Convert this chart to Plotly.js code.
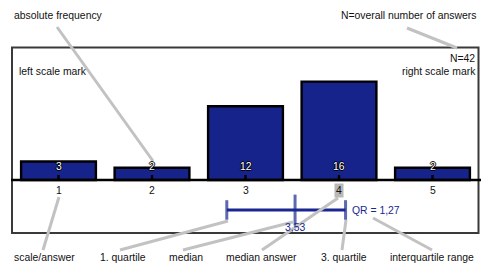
<!DOCTYPE html>
<html><head><meta charset="utf-8">
<script src="https://cdn.plot.ly/plotly-3.0.1.min.js"></script>
<style>html,body{margin:0;padding:0;background:#fff}#chart{width:481px;height:271px}</style>
</head><body><div id="chart"></div>
<script>
// ---- data ----
const categories = [1, 2, 3, 4, 5];
const frequencies = [3, 2, 12, 16, 2];
const tickLabels = ['1', '2', '3', '4', '5'];
const medianAnswer = 4;
const nTotal = 42;
const quartile1 = 2.80;
const medianValue = 3.53;
const quartile3 = 4.07;
const interquartileRange = 1.27;

// ---- layout geometry ----
const W = 481, H = 271;
const x0 = 1 - 58.5 / 93.5, x1 = x0 + W / 93.5;
const pxU = 6.15, baseY = 180;
const yLo = -(H - baseY) / pxU, yHi = baseY / pxU;
const px = v => v / W, py = v => 1 - v / H;
const fmt = v => v.toFixed(2).replace('.', ',');
const navy = '#1a2790', barFill = '#16238a', grey = '#c2c2c2';
const FS = 10.4;
const font = {family: 'Liberation Sans, Arial, sans-serif', size: FS, color: '#111'};
const iqrY = -(210 - baseY) / pxU;

const traces = [
  {type: 'bar', x: categories, y: frequencies, width: 0.8,
   marker: {color: barFill, line: {color: '#000', width: 2.4}}, hoverinfo: 'none'},
  {type: 'scatter', mode: 'lines', x: [quartile1, quartile3], y: [iqrY, iqrY],
   line: {color: navy, width: 3}, hoverinfo: 'none'},
  {type: 'scatter', mode: 'markers', x: [quartile1, medianValue, quartile3], y: [iqrY, iqrY, iqrY],
   marker: {symbol: 'line-ns-open', color: navy, size: [14, 22, 14], line: {color: navy, width: 3}}, hoverinfo: 'none'}
];

const shapes = [
  {type: 'rect', xref: 'paper', yref: 'paper', x0: px(12), x1: px(478.5), y0: py(233), y1: py(47.5),
   line: {color: '#3a3a3a', width: 2}, layer: 'below'},
  {type: 'line', xref: 'paper', yref: 'y', x0: px(11), x1: 1, y0: 0, y1: 0,
   line: {color: '#000', width: 2.4}},
];
categories.forEach(c => shapes.push({type: 'line', xref: 'x', yref: 'y', x0: c, x1: c, y0: 0, y1: 5 / pxU,
  line: {color: '#000', width: 2.4}}));
const leaders = [
  [57, 27, 153, 161], [407, 28, 457, 48], [43, 250, 59, 197], [120, 250, 228, 221],
  [183, 250, 293, 222], [262, 250, 338, 198], [342, 250, 346, 220], [432, 250, 373, 218]
];
leaders.forEach(l => shapes.push({type: 'line', xref: 'paper', yref: 'paper',
  x0: px(l[0]), y0: py(l[1]), x1: px(l[2]), y1: py(l[3]), line: {color: grey, width: 3}}));

const ann = [];
const txt = (t, x, y, anchor, extra) => ann.push(Object.assign({text: t, xref: 'paper', yref: 'paper',
  x: px(x), y: py(y), xanchor: anchor, yanchor: 'middle', showarrow: false, font: font}, extra || {}));
txt('absolute frequency', 12, 16, 'left');
txt('N=overall number of answers', 478, 16, 'right');
txt('N=' + nTotal, 477, 58, 'right');
txt('left scale mark', 17, 72, 'left');
txt('right scale mark', 478, 72, 'right');
txt('scale/answer', 12, 257, 'left');
txt('1. quartile', 98, 257, 'left');
txt('median', 167, 257, 'left');
txt('median answer', 224, 257, 'left');
txt('3. quartile', 319, 257, 'left');
txt('interquartile range', 388, 257, 'left');

categories.forEach((c, i) => {
  ann.push({text: tickLabels[i], xref: 'x', yref: 'y', x: c, y: 0, yshift: -10, yanchor: 'middle',
    showarrow: false, font: font, borderpad: 1,
    bgcolor: c === medianAnswer ? '#b8b8b8' : 'rgba(0,0,0,0)'});
  ann.push({text: String(frequencies[i]), xref: 'x', yref: 'y', x: c, y: 0, yshift: 14, yanchor: 'middle',
    showarrow: false, font: {family: font.family, size: FS, color: '#fff',
      shadow: '1px 0 0 #000, -1px 0 0 #000, 0 1px 0 #000, 0 -1px 0 #000'}});
});
ann.push({text: fmt(medianValue), xref: 'x', yref: 'y', x: medianValue, y: iqrY, yshift: -17,
  showarrow: false, font: {family: font.family, size: FS, color: navy}});
ann.push({text: 'QR = ' + fmt(interquartileRange), xref: 'x', yref: 'y', x: quartile3, y: iqrY,
  xshift: 4, xanchor: 'left', yanchor: 'middle', showarrow: false,
  font: {family: font.family, size: FS, color: navy}});

const layout = {
  width: W, height: H, margin: {l: 0, r: 0, t: 0, b: 0},
  paper_bgcolor: '#fff', plot_bgcolor: 'rgba(0,0,0,0)', showlegend: false,
  xaxis: {range: [x0, x1], visible: false, fixedrange: true},
  yaxis: {range: [yLo, yHi], visible: false, fixedrange: true},
  shapes: shapes, annotations: ann
};
Plotly.newPlot('chart', traces, layout, {staticPlot: true});
</script></body></html>
